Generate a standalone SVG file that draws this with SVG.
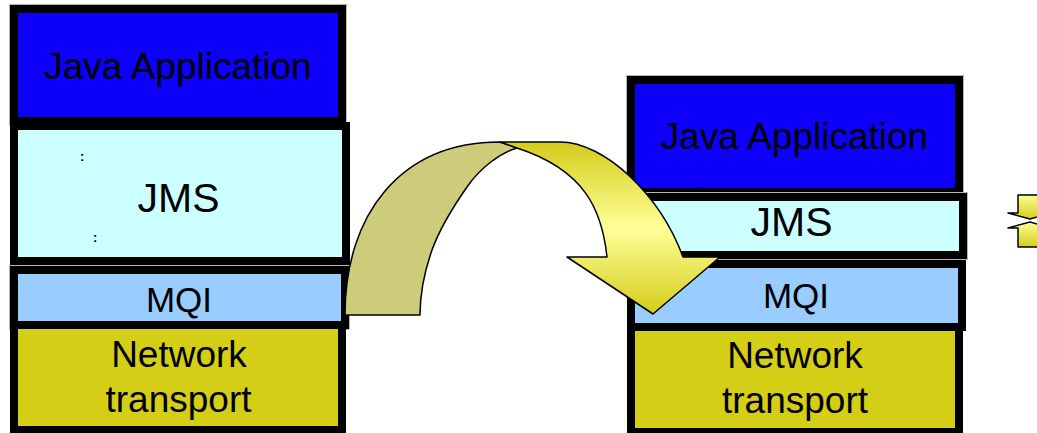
<svg xmlns="http://www.w3.org/2000/svg" width="1037" height="433" viewBox="0 0 1037 433">
  <style>
    .box { stroke: #000; stroke-width: 8; }
    .edge { fill: none; stroke: #b4b4b4; stroke-width: 1; }
    .lbl { font-family: "Liberation Sans", Arial, sans-serif; fill: #000; text-anchor: middle; }
    .dot { font-family: "Liberation Sans", Arial, sans-serif; fill: #000; font-size: 13px; font-weight: bold; }
    .java { fill: #0C00F8; }
    .jms { fill: #CCFFFF; }
    .mqi { fill: #99CCFF; }
    .net { fill: #D4CE16; }
    .arr { stroke: #000; stroke-width: 1.5; stroke-linejoin: round; }
  </style>
  <defs>
    <linearGradient id="yel" gradientUnits="userSpaceOnUse" x1="0" y1="142" x2="0" y2="314">
      <stop offset="0" stop-color="#D4CC1A"/>
      <stop offset="0.5" stop-color="#FFFF99"/>
      <stop offset="1" stop-color="#D4CC1A"/>
    </linearGradient>
    <linearGradient id="iconY" x1="0" y1="0" x2="0" y2="1">
      <stop offset="0" stop-color="#FFFF99"/>
      <stop offset="1" stop-color="#D4CC1A"/>
    </linearGradient>
  </defs>

  <!-- Left stack -->
  <g id="left-java">
    <rect class="edge" x="9.5" y="4.5" width="337" height="121"/>
    <rect class="box java" x="14" y="9" width="328" height="112"/>
    <text class="lbl" x="178" y="79" font-size="37">Java Application</text>
  </g>
  <g id="left-jms">
    <rect class="box jms" x="14" y="126" width="332" height="135"/>
    <text class="lbl" x="178.5" y="212" font-size="41">JMS</text>
    <text class="dot" x="80" y="161">:</text>
    <text class="dot" x="93" y="242">:</text>
  </g>
  <g id="left-mqi">
    <rect class="edge" x="9.5" y="265.5" width="340" height="64"/>
    <rect class="box mqi" x="14" y="270" width="331" height="55"/>
    <text class="lbl" x="179" y="312" font-size="35">MQI</text>
  </g>
  <g id="left-net">
    <rect class="box net" x="14" y="325" width="328" height="105"/>
    <text class="lbl" x="179" y="367" font-size="37">Network</text>
    <text class="lbl" x="178.5" y="412" font-size="37">transport</text>
  </g>

  <!-- Right stack -->
  <g id="right-java">
    <rect class="edge" x="626.5" y="75.5" width="337" height="121"/>
    <rect class="box java" x="631" y="80" width="328" height="112"/>
    <text class="lbl" x="794.5" y="149" font-size="37">Java Application</text>
    <text class="dot" x="697" y="189">.</text>
  </g>
  <g id="right-jms">
    <rect class="edge" x="626.5" y="192.5" width="341" height="67"/>
    <rect class="box jms" x="631" y="197" width="332" height="58"/>
    <text class="lbl" x="791.5" y="236" font-size="41">JMS</text>
  </g>
  <g id="right-mqi">
    <rect class="box mqi" x="631" y="264" width="331" height="63"/>
    <text class="lbl" x="796" y="308" font-size="35">MQI</text>
  </g>
  <g id="right-net">
    <rect class="box net" x="631" y="327" width="328" height="105"/>
    <text class="lbl" x="795" y="368" font-size="37">Network</text>
    <text class="lbl" x="795" y="413" font-size="37">transport</text>
  </g>

  <!-- Connector: curved ribbon arrow -->
  <g id="connectors">
    <path class="arr" fill="#CCCC7A" d="M345,315 C345,215 400,142 500,142 L517,148 C500,153 480,168 467,187 C453,207 440,228 432,250 C425,270 420,290 420,315 Z"/>
    <path class="arr" fill="url(#yel)" d="M500,142 L560,142 C605,142 660,195 683,257 L720,257 L653,314 L567,257 L607,257 C602,210 585,170 517,148 Z"/>
  </g>

  <!-- Partial icon at right edge -->
  <g id="right-icon">
    <path class="arr" fill="url(#iconY)" stroke-width="1.2" d="M1018,195 L1042,195 L1042,213 L1052,213 L1030,219 L1008,213 L1018,213 Z"/>
    <path class="arr" fill="url(#iconY)" stroke-width="1.2" d="M1030,222 L1052,228 L1042,228 L1042,247 L1018,247 L1018,228 L1008,228 Z"/>
  </g>
</svg>
